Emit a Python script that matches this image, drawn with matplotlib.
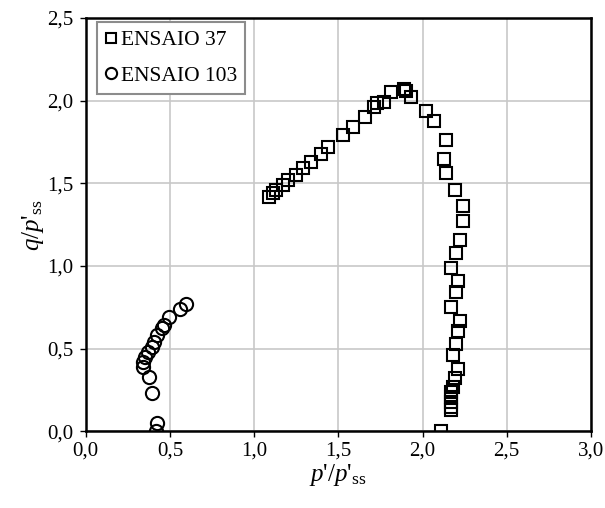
import matplotlib
matplotlib.use("Agg")
import matplotlib.pyplot as plt
from matplotlib.ticker import MultipleLocator, FuncFormatter

plt.rcParams['font.family'] = 'Liberation Serif'
plt.rcParams['mathtext.fontset'] = 'custom'
plt.rcParams['mathtext.rm'] = 'Liberation Serif'
plt.rcParams['mathtext.it'] = 'Liberation Serif:italic'

# ensaio 37 (p'/p'ss, q/p'ss)
p37 = [2.11, 2.17, 2.17, 2.17, 2.17, 2.17, 2.18, 2.19, 2.21, 2.18, 2.20, 2.21,
       2.22, 2.17, 2.20, 2.21, 2.17, 2.20, 2.22, 2.24, 2.24, 2.19, 2.14, 2.13,
       2.14, 2.07, 2.02, 1.93, 1.90, 1.89, 1.81, 1.77, 1.73, 1.71, 1.66, 1.59,
       1.53, 1.44, 1.40, 1.34, 1.29, 1.25, 1.20, 1.17, 1.13, 1.11, 1.09]
q37 = [0.00, 0.13, 0.15, 0.18, 0.21, 0.24, 0.27, 0.32, 0.38, 0.46, 0.53, 0.61,
       0.67, 0.75, 0.84, 0.91, 0.99, 1.08, 1.16, 1.27, 1.36, 1.46, 1.56, 1.65,
       1.76, 1.88, 1.94, 2.02, 2.06, 2.07, 2.05, 1.99, 1.985, 1.96, 1.90, 1.84,
       1.79, 1.72, 1.675, 1.63, 1.59, 1.55, 1.52, 1.49, 1.46, 1.44, 1.42]

# ensaio 103
p103 = [0.42, 0.425, 0.395, 0.377, 0.338, 0.338, 0.352, 0.371, 0.391, 0.405,
        0.421, 0.45, 0.464, 0.496, 0.559, 0.595]
q103 = [0.00, 0.05, 0.234, 0.327, 0.391, 0.42, 0.45, 0.48, 0.508, 0.54,
        0.583, 0.623, 0.643, 0.69, 0.738, 0.77]

fig = plt.figure(figsize=(6.05, 5.08), dpi=100)
ax = fig.add_axes([0.1417, 0.1508, 0.835, 0.8138])

ax.plot(p37, q37, ls='none', marker='s', ms=9, mfc='none', mec='black',
        mew=1.5, label='ENSAIO 37')
ax.plot(p103, q103, ls='none', marker='o', ms=9.5, mfc='none', mec='black',
        mew=1.5, label='ENSAIO 103')

ax.set_xlim(0, 3)
ax.set_ylim(0, 2.5)
ax.xaxis.set_major_locator(MultipleLocator(0.5))
ax.yaxis.set_major_locator(MultipleLocator(0.5))
virgula = FuncFormatter(lambda v, pos: f"{v:.1f}".replace('.', ','))
ax.xaxis.set_major_formatter(virgula)
ax.yaxis.set_major_formatter(virgula)
ax.tick_params(direction='out', length=4, width=1, labelsize=15,
               colors='black')
ax.tick_params(axis='x', pad=3)
ax.tick_params(axis='y', pad=5)

ax.grid(True, color='#c8c8c8', lw=1.2)
ax.set_axisbelow(True)
for s in ax.spines.values():
    s.set_linewidth(1.8)
    s.set_color('black')

ax.set_xlabel(r"$p$'/$p$'$_{\mathrm{ss}}$", fontsize=18, labelpad=1)
ax.set_ylabel(r"$q$/$p$'$_{\mathrm{ss}}$", fontsize=18, labelpad=1)

leg = ax.legend(loc='upper left', fontsize=15.5, markerscale=0.85,
                handlelength=0.55, handletextpad=0.15, borderpad=0.4,
                labelspacing=0.7, borderaxespad=0, fancybox=False,
                framealpha=1, bbox_to_anchor=(0.022, 0.991))
leg.get_frame().set_edgecolor('#8c8c8c')
leg.get_frame().set_linewidth(1.5)

fig.savefig('out.png', dpi=100)
